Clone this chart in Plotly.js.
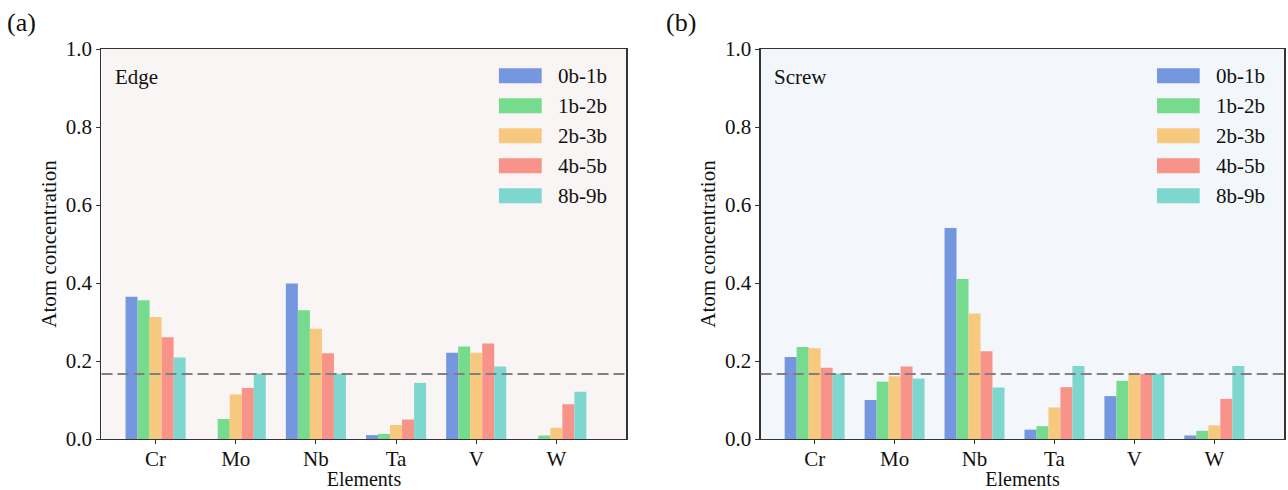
<!DOCTYPE html>
<html>
<head>
<meta charset="utf-8">
<script src="https://cdn.plot.ly/plotly-3.0.1.min.js"></script>
<style>html,body{margin:0;padding:0;background:#fff;}#chart{width:1288px;height:490px;}</style>
</head>
<body>
<div id="chart"></div>
<script>
// ---- data ----
const elements = ["Cr", "Mo", "Nb", "Ta", "V", "W"];
const seriesNames = ["0b-1b", "1b-2b", "2b-3b", "4b-5b", "8b-9b"];
const seriesColors = ["#7597E0", "#77DB8D", "#F7C97E", "#F79389", "#7ED7CF"];

// Edge dislocation (panel a)
const edge_0b1b = [0.365, 0.000, 0.399, 0.010, 0.221, 0.000];
const edge_1b2b = [0.356, 0.051, 0.330, 0.013, 0.237, 0.009];
const edge_2b3b = [0.313, 0.114, 0.283, 0.036, 0.221, 0.029];
const edge_4b5b = [0.261, 0.131, 0.220, 0.050, 0.245, 0.089];
const edge_8b9b = [0.209, 0.167, 0.167, 0.144, 0.186, 0.121];

// Screw dislocation (panel b)
const screw_0b1b = [0.210, 0.100, 0.541, 0.024, 0.110, 0.009];
const screw_1b2b = [0.236, 0.147, 0.410, 0.033, 0.149, 0.021];
const screw_2b3b = [0.233, 0.161, 0.322, 0.081, 0.166, 0.035];
const screw_4b5b = [0.183, 0.186, 0.225, 0.133, 0.167, 0.103];
const screw_8b9b = [0.168, 0.155, 0.132, 0.187, 0.167, 0.187];

const averageConc = 1 / 6;
const yTicks = [0.0, 0.2, 0.4, 0.6, 0.8, 1.0];
const panelTitles = ["Edge", "Screw"];
const panelLabels = ["(a)", "(b)"];

const edgeSeries = [edge_0b1b, edge_1b2b, edge_2b3b, edge_4b5b, edge_8b9b];
const screwSeries = [screw_0b1b, screw_1b2b, screw_2b3b, screw_4b5b, screw_8b9b];

// ---- traces ----
const FONT = "Liberation Serif, Times New Roman, serif";
const traces = [];
[[edgeSeries, "x", "y"], [screwSeries, "x2", "y2"]].forEach(([ser, xa, ya]) => {
  ser.forEach((vals, i) => {
    traces.push({
      type: "bar", x: elements, y: vals, name: seriesNames[i],
      xaxis: xa, yaxis: ya, showlegend: false,
      marker: {color: seriesColors[i], line: {width: 0}},
      hoverinfo: "x+y+name"
    });
  });
});

// ---- layout ----
const axisCommon = {
  showline: true, linecolor: "#333", linewidth: 1.3, mirror: true,
  ticks: "outside", ticklen: 4, tickwidth: 1, tickcolor: "#333",
  showgrid: false, zeroline: false,
  tickfont: {family: FONT, size: 21, color: "#111"}
};
const xAxis = (dom, anchor) => Object.assign({}, axisCommon, {
  domain: dom, anchor: anchor, type: "category",
  range: [-0.675, 5.875], fixedrange: true,
  ticklabelstandoff: -4,
  title: {text: "Elements", font: {family: FONT, size: 20, color: "#111"}, standoff: 4}
});
const yAxis = (anchor) => Object.assign({}, axisCommon, {
  domain: [0, 1], anchor: anchor, range: [0, 1],
  tickvals: yTicks, ticktext: yTicks.map(v => v.toFixed(1)),
  title: {text: "Atom concentration", font: {family: FONT, size: 21, color: "#111"}, standoff: 3}
});

const shapes = [];
const annotations = [];
const panels = [
  {xa: "x", ya: "y", bg: "#FAF5F5"},
  {xa: "x2", ya: "y2", bg: "#F3F7FB"}
];
panels.forEach((p, k) => {
  // background
  shapes.push({type: "rect", xref: p.xa + " domain", yref: p.ya + " domain",
    x0: 0, x1: 1, y0: 0, y1: 1, fillcolor: p.bg, line: {width: 0}, layer: "below"});
  // reference line
  shapes.push({type: "line", xref: p.xa + " domain", yref: p.ya,
    x0: 0, x1: 1, y0: averageConc, y1: averageConc,
    line: {color: "#808080", width: 2.2, dash: "11px,5px"}, layer: "above"});
  // legend
  seriesNames.forEach((nm, i) => {
    const yc = 0.9315 - i * 0.0769;
    shapes.push({type: "rect", xref: p.xa + " domain", yref: p.ya + " domain",
      x0: 0.757, x1: 0.8385, y0: yc - 0.0192, y1: yc + 0.0192,
      fillcolor: seriesColors[i], line: {width: 0}, layer: "above"});
    annotations.push({xref: p.xa + " domain", yref: p.ya + " domain",
      x: 0.866, y: yc, xanchor: "left", yanchor: "middle", showarrow: false,
      text: nm, font: {family: FONT, size: 21, color: "#111"}});
  });
  // panel title (Edge / Screw)
  annotations.push({xref: p.xa + " domain", yref: p.ya + " domain",
    x: 0.022, y: 0.928, xanchor: "left", yanchor: "middle", showarrow: false,
    text: panelTitles[k], font: {family: FONT, size: 21, color: "#111"}});
});
annotations.push({xref: "paper", yref: "paper", x: 0.004, y: 1.069, xanchor: "left", yanchor: "middle",
  showarrow: false, text: panelLabels[0], font: {family: FONT, size: 26, color: "#111"}});
annotations.push({xref: "paper", yref: "paper", x: 0.5155, y: 1.069, xanchor: "left", yanchor: "middle",
  showarrow: false, text: panelLabels[1], font: {family: FONT, size: 26, color: "#111"}});

const layout = {
  width: 1288, height: 490,
  margin: {l: 0, r: 0, t: 49, b: 51},
  paper_bgcolor: "#ffffff", plot_bgcolor: "rgba(0,0,0,0)",
  barmode: "group", bargap: 0.25, bargroupgap: 0,
  showlegend: false,
  font: {family: FONT, size: 20, color: "#111"},
  xaxis: xAxis([0.0788, 0.4864], "y"),
  yaxis: yAxis("x"),
  xaxis2: xAxis([0.5906, 0.9971], "y2"),
  yaxis2: yAxis("x2"),
  shapes: shapes,
  annotations: annotations
};

Plotly.newPlot("chart", traces, layout, {displayModeBar: false, staticPlot: true});
</script>
</body>
</html>
